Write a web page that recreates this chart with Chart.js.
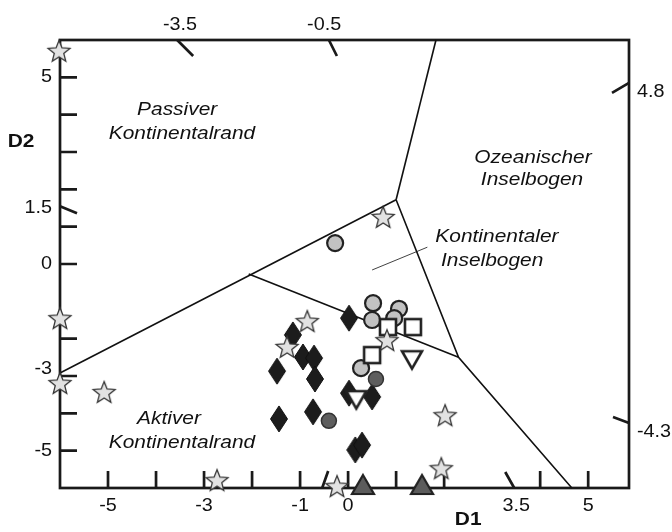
<!DOCTYPE html>
<html>
<head>
<meta charset="utf-8">
<script src="https://cdn.jsdelivr.net/npm/chart.js@4.4.0/dist/chart.umd.min.js"></script>
<style>
  body { margin: 0; background: #fff; }
  canvas { display: block; }
</style>
</head>
<body>
<canvas id="diagram" width="672" height="532"></canvas>
<script>
// samples as [D1, D2]
const stars = [[-6.02, 5.71], [-6, -1.45], [-6, -3.19], [-5.08, -3.43], [-2.73, -5.79], [-0.85, -1.53],
  [-1.27, -2.22], [0.81, -2.04], [-0.23, -5.95], [2.02, -4.05], [1.94, -5.47], [0.73, 1.26]];
const lightCircles = [[-0.27, 0.56], [0.52, -1.05], [0.5, -1.5], [1.06, -1.2], [0.96, -1.45], [0.27, -2.79]];
const darkCircles = [[0.58, -3.08], [-0.4, -4.2]];
const diamonds = [[0.02, -1.45], [-1.15, -1.9], [-0.94, -2.49], [-0.71, -2.52], [-1.48, -2.87], [-0.69, -3.08],
  [0.02, -3.46], [0.5, -3.56], [-0.73, -3.96], [-1.44, -4.15], [0.15, -4.98], [0.29, -4.85]];
const squares = [[0.83, -1.69], [1.35, -1.69], [0.5, -2.44]];
const downTriangles = [[1.33, -2.55], [0.17, -3.62]];
const upTriangles = [[0.31, -5.92], [1.54, -5.92]];

// field boundaries
const boundaryMain = [[-6, -2.92], [1.0, 1.72]];
const boundaryUpper = [[1.0, 1.72], [1.83, 6]];
const boundaryMiddle = [[-2.07, -0.27], [2.3, -2.5]];
const boundaryRight = [[1.0, 1.72], [2.3, -2.5], [4.66, -6]];
const pointerLine = [[1.65, 0.45], [0.5, -0.16]];

// axis ticks and labels
const bottomTicks = [-5, -4, -3, -2, -1, 0, 1, 2, 4, 5];
const bottomLabels = [-5, -3, -1, 0, 3.5, 5];
const leftTicks = [5, 4, 3, 2, 1, 0, -2, -3, -4, -5];
const leftLabels = [5, 1.5, 0, -3, -5];
const topLabels = [-3.5, -0.5];
const rightLabels = [4.8, -4.3];

const fieldNames = [
  { lines: ['Passiver', 'Kontinentalrand'], at: [[-3.56, 4.12], [-3.46, 3.5]] },
  { lines: ['Ozeanischer', 'Inselbogen'], at: [[3.85, 2.85], [3.83, 2.26]] },
  { lines: ['Kontinentaler', 'Inselbogen'], at: [[3.1, 0.74], [3.0, 0.1]] },
  { lines: ['Aktiver', 'Kontinentalrand'], at: [[-3.73, -4.15], [-3.46, -4.8]] }
];

const xy = pts => pts.map(p => ({ x: p[0], y: p[1] }));

const sprite = (w, h, draw) => {
  const c = document.createElement('canvas');
  c.width = w;
  c.height = h;
  draw(c.getContext('2d'), w / 2, h / 2);
  return c;
};

const starImg = sprite(26, 26, (g, cx, cy) => {
  g.beginPath();
  for (let i = 0; i < 10; i++) {
    const a = -Math.PI / 2 + i * Math.PI / 5;
    const r = i % 2 ? 5 : 11.5;
    g.lineTo(cx + r * Math.cos(a), cy + 1 + r * Math.sin(a));
  }
  g.closePath();
  g.fillStyle = '#e2e2e2';
  g.fill();
  g.lineWidth = 1.3;
  g.strokeStyle = '#333';
  g.stroke();
});

const diamondImg = sprite(20, 30, (g, cx, cy) => {
  g.beginPath();
  g.moveTo(cx, cy - 13);
  g.lineTo(cx + 8.5, cy);
  g.lineTo(cx, cy + 13);
  g.lineTo(cx - 8.5, cy);
  g.closePath();
  g.fillStyle = '#1c1c1c';
  g.fill();
  g.lineWidth = 1;
  g.strokeStyle = '#111';
  g.stroke();
});

const squareImg = sprite(22, 22, (g, cx, cy) => {
  g.fillStyle = '#fff';
  g.fillRect(cx - 8, cy - 8, 16, 16);
  g.lineWidth = 2.6;
  g.strokeStyle = '#222';
  g.strokeRect(cx - 8, cy - 8, 16, 16);
});

const triDownImg = sprite(28, 26, (g, cx, cy) => {
  g.beginPath();
  g.moveTo(cx - 10, cy - 8);
  g.lineTo(cx + 10, cy - 8);
  g.lineTo(cx, cy + 9.5);
  g.closePath();
  g.fillStyle = '#fff';
  g.fill();
  g.lineWidth = 2.6;
  g.lineJoin = 'miter';
  g.strokeStyle = '#222';
  g.stroke();
});

const triUpImg = sprite(28, 26, (g, cx, cy) => {
  g.beginPath();
  g.moveTo(cx, cy - 10);
  g.lineTo(cx + 11, cy + 9);
  g.lineTo(cx - 11, cy + 9);
  g.closePath();
  g.fillStyle = '#5c5c5c';
  g.fill();
  g.lineWidth = 2.2;
  g.strokeStyle = '#222';
  g.stroke();
});

const markers = (pts, style, extra) => Object.assign({
  data: xy(pts),
  pointStyle: style,
  pointRadius: 8,
  clip: false
}, extra);

const boundary = (pts, width) => ({
  data: xy(pts),
  showLine: true,
  borderColor: '#111',
  borderWidth: width,
  pointRadius: 0,
  clip: false
});

const text = (ctx, str, x, y, align, font) => {
  ctx.save();
  ctx.translate(x, y);
  ctx.scale(1.1, 1);
  ctx.font = font;
  ctx.textAlign = align;
  ctx.textBaseline = 'middle';
  ctx.fillStyle = '#111';
  ctx.fillText(str, 0, 0);
  ctx.restore();
};

const frame = {
  id: 'frame',
  beforeDatasetsDraw(chart) {
    const { ctx, chartArea: a, scales: { x, y } } = chart;
    const tickFont = '18px "Liberation Sans", Arial, sans-serif';
    ctx.save();
    ctx.strokeStyle = '#1a1a1a';
    ctx.lineCap = 'butt';

    ctx.lineWidth = 2.7;
    ctx.strokeRect(a.left, a.top, a.right - a.left, a.bottom - a.top);

    ctx.beginPath();
    bottomTicks.forEach(v => {
      const px = x.getPixelForValue(v);
      ctx.moveTo(px, a.bottom);
      ctx.lineTo(px, a.bottom - 17);
    });
    leftTicks.forEach(v => {
      const py = y.getPixelForValue(v);
      ctx.moveTo(a.left, py);
      ctx.lineTo(a.left + 17, py);
    });
    // slanted ticks of the rotated discriminant axes
    const bx = (v, dx, dy) => { const p = x.getPixelForValue(v); ctx.moveTo(p, a.bottom); ctx.lineTo(p + dx, a.bottom + dy); };
    const tx = (v, dx, dy) => { const p = x.getPixelForValue(v); ctx.moveTo(p, a.top); ctx.lineTo(p + dx, a.top + dy); };
    const ly = (v, dx, dy) => { const p = y.getPixelForValue(v); ctx.moveTo(a.left, p); ctx.lineTo(a.left + dx, p + dy); };
    const ry = (v, dx, dy) => { const p = y.getPixelForValue(v); ctx.moveTo(a.right, p); ctx.lineTo(a.right + dx, p + dy); };
    bx(3.46, -9, -16);
    bx(-0.54, 6, -17);
    tx(-3.56, 16, 16);
    tx(-0.4, 8, 16);
    ly(1.55, 17, 7);
    ry(4.85, -17, 10);
    ry(-4.26, -16, -6);
    ctx.stroke();
    ctx.restore();

    bottomLabels.forEach(v => text(ctx, String(v), x.getPixelForValue(v), a.bottom + 18, 'center', tickFont));
    leftLabels.forEach(v => text(ctx, String(v), a.left - 8, y.getPixelForValue(v) + (v === -3 ? -7 : 0), 'right', tickFont));
    topLabels.forEach(v => text(ctx, String(v), x.getPixelForValue(v), a.top - 15, 'center', tickFont));
    rightLabels.forEach(v => text(ctx, String(v), a.right + 8, y.getPixelForValue(v) + 7, 'left', tickFont));

    const bold = 'bold 19px "Liberation Sans", Arial, sans-serif';
    text(ctx, 'D2', 21, 142, 'center', bold);
    text(ctx, 'D1', x.getPixelForValue(2.5), a.bottom + 32, 'center', bold);

    const italic = 'italic 19px "Liberation Sans", Arial, sans-serif';
    fieldNames.forEach(f => f.lines.forEach((s, i) =>
      text(ctx, s, x.getPixelForValue(f.at[i][0]), y.getPixelForValue(f.at[i][1]), 'center', italic)));
  }
};

new Chart(document.getElementById('diagram'), {
  type: 'scatter',
  data: {
    datasets: [
      markers(stars, starImg),
      markers(downTriangles, triDownImg),
      markers(upTriangles, triUpImg),
      markers(squares, squareImg),
      markers(lightCircles, 'circle', { pointRadius: 8, pointBorderWidth: 2.2, pointBackgroundColor: '#c2c2c2', pointBorderColor: '#222' }),
      markers(darkCircles, 'circle', { pointRadius: 7.5, pointBorderWidth: 1.5, pointBackgroundColor: '#5e5e5e', pointBorderColor: '#333' }),
      markers(diamonds, diamondImg),
      boundary(boundaryMain, 1.6),
      boundary(boundaryUpper, 1.6),
      boundary(boundaryMiddle, 1.6),
      boundary(boundaryRight, 1.6),
      boundary(pointerLine, 0.8)
    ]
  },
  options: {
    responsive: false,
    animation: false,
    devicePixelRatio: 1,
    layout: { padding: { left: 60, top: 40, right: 43, bottom: 44 } },
    scales: {
      x: { type: 'linear', min: -6, max: 5.85, display: false },
      y: { type: 'linear', min: -6, max: 6, display: false }
    },
    plugins: { legend: { display: false }, tooltip: { enabled: false } }
  },
  plugins: [frame]
});
</script>
</body>
</html>
